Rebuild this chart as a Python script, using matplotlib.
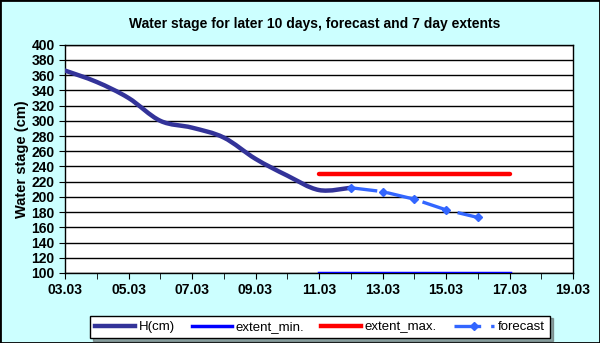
import numpy as np
import matplotlib
matplotlib.use("Agg")
import matplotlib.pyplot as plt
from matplotlib.path import Path
from matplotlib.patches import PathPatch
from matplotlib.lines import Line2D

plt.rcParams['font.family'] = ['Liberation Sans', 'DejaVu Sans']

# data (day of March)
h_days = [3, 4, 5, 6, 7, 8, 9, 10, 11, 12]
h_values = [366, 351, 330, 300, 291, 278, 250, 228, 209, 212]

fc_days = [12, 13, 14, 15, 16]
fc_values = [212, 207, 197, 183, 173]

ext_days = [11, 17]
ext_min = [100, 100]
ext_max = [230, 230]

bg = '#CCFFFF'
fig = plt.figure(figsize=(6, 3.43), dpi=100, facecolor=bg)
ax = fig.add_axes([65 / 600, 70 / 343, 508 / 600, 228.3 / 343])
ax.set_facecolor('white')

# smoothed line like excel (bezier through the points)
def smooth_path(x, y):
    p = np.column_stack([x, y]).astype(float)
    n = len(p)
    verts = [p[0]]
    codes = [Path.MOVETO]
    for i in range(n - 1):
        p0 = p[i - 1] if i > 0 else p[i]
        p3 = p[i + 2] if i + 2 < n else p[i + 1]
        c1 = p[i] + (p[i + 1] - p0) / 6
        c2 = p[i + 1] - (p3 - p[i]) / 6
        verts += [c1, c2, p[i + 1]]
        codes += [Path.CURVE4] * 3
    return Path(verts, codes)

h_col = '#333399'
ax.add_patch(PathPatch(smooth_path(h_days, h_values), facecolor='none',
                       edgecolor=h_col, lw=3.2, capstyle='round', zorder=4))
ax.plot(ext_days, ext_min, color='#0000FF', lw=2.5, zorder=3)
ax.plot(ext_days, ext_max, color='#FF0000', lw=3.2, solid_capstyle='round', zorder=3)
fc_col = '#3366FF'
ax.plot(fc_days, fc_values, color=fc_col, lw=2.4, dashes=(8, 3), marker='D',
        markersize=4.5, zorder=5)

ax.set_xlim(3, 19)
ax.set_ylim(100, 400)
ax.set_yticks(np.arange(100, 401, 20))
ax.set_xticks(np.arange(3, 20, 2))
ax.set_xticks(np.arange(3, 20, 1), minor=True)
ax.set_xticklabels(['%02d.03' % d for d in range(3, 20, 2)])
ax.yaxis.grid(True, color='black', lw=1)
ax.set_axisbelow(True)
for s in ax.spines.values():
    s.set_color('black')
    s.set_linewidth(1)
ax.tick_params(axis='both', which='both', direction='out', length=4, color='black',
               labelsize=10)
ax.tick_params(axis='x', which='minor', length=4)
for lbl in ax.get_xticklabels() + ax.get_yticklabels():
    lbl.set_fontweight('bold')
ax.set_ylabel('Water stage (cm)', fontsize=10.5, fontweight='bold', labelpad=2)

fig.text(315 / 600, 1 - 24 / 343, 'Water stage for later 10 days, forecast and 7 day extents',
         ha='center', va='center', fontsize=10, fontweight='bold')

handles = [
    Line2D([], [], color=h_col, lw=3.2),
    Line2D([], [], color='#0000FF', lw=2.5),
    Line2D([], [], color='#FF0000', lw=3.2),
    Line2D([], [], color=fc_col, lw=2.4, dashes=(8, 3), marker='D', markersize=4),
]
leg = fig.legend(handles, ['H(cm)', 'extent_min.', 'extent_max.', 'forecast'],
                 loc='center', bbox_to_anchor=(320 / 600, 1 - 327 / 343), ncol=4,
                 fontsize=9.5, frameon=True, fancybox=False, shadow=True,
                 handlelength=3, handletextpad=0.3, columnspacing=1.3,
                 borderpad=0.4)
leg.get_frame().set_edgecolor('black')
leg.get_frame().set_linewidth(1)

fig.patches.append(plt.Rectangle((0, 0), 1, 1, transform=fig.transFigure,
                                 fill=False, edgecolor='black', lw=2))

fig.savefig('out.png', dpi=100, facecolor=bg)
